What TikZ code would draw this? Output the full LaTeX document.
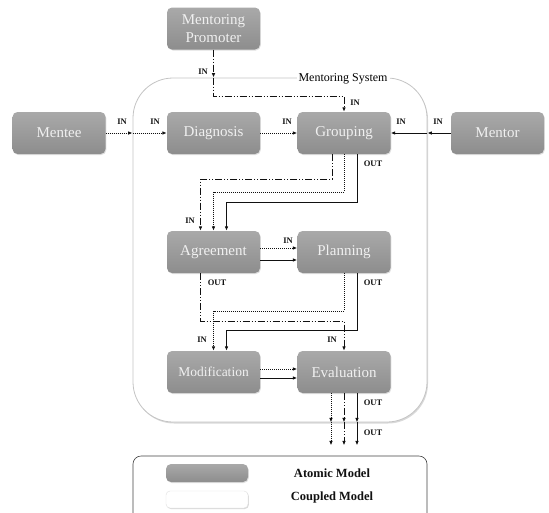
\documentclass[tikz,border=0pt]{standalone}
\usepackage{fontspec}
\setmainfont{Liberation Serif}
\usepackage{xcolor}
\usetikzlibrary{arrows.meta, calc, shadows}
\definecolor{msInk}{HTML}{111111}
\definecolor{msBoxTop}{HTML}{A9A9A9}
\definecolor{msBoxBot}{HTML}{8D8D8D}
\definecolor{msBoxText}{HTML}{F0F0F0}
\definecolor{msFrame}{HTML}{C4C4C4}
\tikzset{
  atom/.style ={rounded corners=5pt, top color=msBoxTop, bottom color=msBoxBot, draw=none,
                minimum width=93pt, minimum height=42pt, align=center, text=msBoxText,
                font=\fontsize{15}{18}\selectfont,
                drop shadow={opacity=0.25, shadow xshift=0.8pt, shadow yshift=-1pt}},
  port/.style ={font=\fontsize{8.5}{9}\selectfont\bfseries, text=msInk, inner sep=1pt},
  sarr/.style ={-{Latex[length=4.5pt,width=3.6pt]}, line width=1pt, msInk},
  darr/.style ={sarr, densely dotted},
  carr/.style ={sarr, dash pattern=on 7pt off 2pt on 1pt off 2pt on 1pt off 2pt},
}

\begin{document}
\begin{tikzpicture}[x=1pt, y=-1pt,
  key/.style={font=\fontsize{12.5}{14}\selectfont\bfseries, text=msInk},
]
\useasboundingbox (0,0) rectangle (549,512);
\clip (0,0) rectangle (549,512);

% ---- coupled model frame ----
\node[draw=msFrame, line width=0.8pt, fill=white, rounded corners=40pt,
      minimum width=294pt, minimum height=344pt,
      drop shadow={opacity=0.3, shadow xshift=1pt, shadow yshift=-1.5pt}] (sys) at (280,250) {};
\node[fill=white, font=\fontsize{12}{14}\selectfont, inner sep=2pt] (sysT) at (343,79) {Mentoring System};

% ---- atomic models ----
\node[atom] (promo)  at (213.5,28.5) {Mentoring\\Promoter};
\node[atom] (mentee) at (59,133)     {Mentee};
\node[atom] (diag)   at (213.5,133)  {Diagnosis};
\node[atom] (grp)    at (344,133)    {Grouping};
\node[atom] (mentor) at (497.5,133)  {Mentor};
\node[atom] (agr)    at (213.5,252)  {Agreement};
\node[atom] (plan)   at (344,252)    {Planning};
\node[atom, font=\fontsize{13.5}{16}\selectfont] (mod) at (213.5,372) {Modification};
\node[atom] (eval)   at (344,372)    {Evaluation};

% ---- external inputs ----
\draw[carr] (promo.south) -- (promo |- sys.north);
\draw[carr] (promo |- sys.north) -- ++(0,19) -| (grp.north);
\draw[darr] (mentee.east) -- (mentee -| sys.west);
\draw[darr] (mentee -| sys.west) -- (diag.west);
\draw[sarr] (mentor.west) -- (mentor -| sys.east);
\draw[sarr] (mentor -| sys.east) -- (grp.east);
\draw[darr] (diag) -- (grp);

% ---- grouping -> agreement ----
\draw[carr] ([xshift=-12pt]grp.south) -- ++(0,25) -| ([xshift=-13pt]agr.north);
\draw[darr] (grp.south) -- ++(0,38) -| (agr.north);
\draw[sarr] ([xshift=13pt]grp.south) -- ++(0,48) -| ([xshift=13pt]agr.north);

% ---- agreement -> planning ----
\draw[darr] ([yshift=4pt]agr.east) -- ([yshift=4pt]plan.west);
\draw[sarr] ([yshift=-8pt]agr.east) -- ([yshift=-8pt]plan.west);

% ---- crossing to modification / evaluation ----
\draw[darr] (plan.south) -- ++(0,38) -| (mod.north);
\draw[carr] ([xshift=-13pt]agr.south) -- ++(0,48) -| (eval.north);
\draw[sarr] ([xshift=13pt]plan.south) -- ++(0,57) -| ([xshift=13pt]mod.north);
\draw[darr] ([yshift=3pt]mod.east) -- ([yshift=3pt]eval.west);
\draw[sarr] ([yshift=-6pt]mod.east) -- ([yshift=-6pt]eval.west);

% ---- evaluation outputs ----
\foreach \n/\dx/\st in {a/-13/darr, b/0/carr, c/13/sarr}{
  \coordinate (eo\n) at ([xshift=\dx pt]eval.south);
  \draw[\st] (eo\n) -- (eo\n |- sys.south);
  \draw[\st] (eo\n |- sys.south) -- ++(0,23);
}

% ---- port labels ----
\node[port] (inPromo)  at (203,72)  {IN};
\node[port] (inGrpT)   at (355,103) {IN};
\node[port] (inSysW)   at (122,122) {IN};
\node[port] (inDiag)   at (155,122) {IN};
\node[port] (inGrpW)   at (287,122) {IN};
\node[port] (inGrpE)   at (401,122) {IN};
\node[port] (inSysE)   at (438,122) {IN};
\node[port] (outGrp)   at (373,164) {OUT};
\node[port] (inAgr)    at (190,221) {IN};
\node[port] (inPlan)   at (288,241) {IN};
\node[port] (outAgr)   at (217,283) {OUT};
\node[port] (outPlan)  at (373,283) {OUT};
\node[port] (inMod)    at (202,340) {IN};
\node[port] (inEval)   at (332,340) {IN};
\node[port] (outEval)  at (373,403) {OUT};
\node[port] (outSys)   at (373,433) {OUT};

% ---- legend ----
\node[draw=msInk!80, line width=0.6pt, rounded corners=8pt,
      minimum width=294pt, minimum height=70pt] (legend) at (280,491) {};
\node[atom, minimum width=82pt, minimum height=18pt] (keyAtom) at (207,473) {};
\node[rounded corners=4pt, fill=white, draw=black!12, minimum width=82pt, minimum height=17pt,
      drop shadow={opacity=0.3, shadow xshift=0.8pt, shadow yshift=-1pt}] (keyCoupled) at (207,499.5) {};
\node[key] (txtAtom)    at (332,473) {Atomic Model};
\node[key] (txtCoupled) at (332,497) {Coupled Model};
\end{tikzpicture}
\end{document}
